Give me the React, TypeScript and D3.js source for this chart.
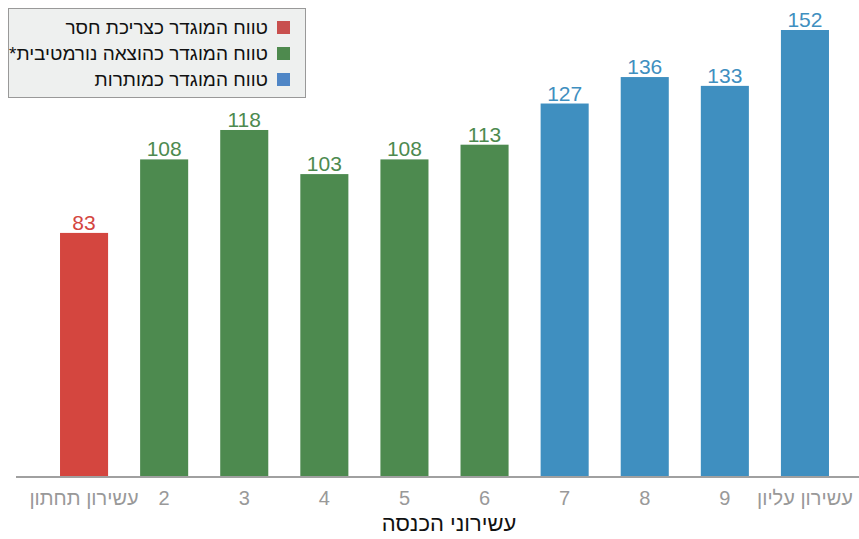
import * as d3 from "d3";

const width = 859;
const height = 539;
const baseline = 477;
const topY = 30;

const categories = ["עשירון תחתון", "2", "3", "4", "5", "6", "7", "8", "9", "עשירון עליון"];
const values = [83, 108, 118, 103, 108, 113, 127, 136, 133, 152];
const groups = ["short", "norm", "norm", "norm", "norm", "norm", "surplus", "surplus", "surplus", "surplus"];

const legendLabels = [
  "טווח המוגדר כצריכת חסר",
  "טווח המוגדר כהוצאה נורמטיבית*",
  "טווח המוגדר כמותרות",
];
const legendKeys = ["short", "norm", "surplus"];

const barColor: Record<string, string> = {
  short: "#d4463f",
  norm: "#4d8a4f",
  surplus: "#3f8fc0",
};
const legendColor: Record<string, string> = {
  short: "#c8504e",
  norm: "#4e8a4e",
  surplus: "#4f86c6",
};

const narrow = "'Liberation Sans Narrow', 'Arial Narrow', 'Liberation Sans', sans-serif";
const sans = "'Liberation Sans', Arial, sans-serif";

const App = () => {
  const x = d3.scaleBand<string>().domain(categories).range([44, 845]).paddingInner(0.4).paddingOuter(0.2);
  const y = d3.scaleLinear().domain([0, 152]).range([baseline, topY]);

  return (
    <svg
      width={width}
      height={height}
      viewBox={`0 0 ${width} ${height}`}
      style={{ position: "absolute", left: 0, top: 0, background: "#fff" }}
    >
      {categories.map((c, i) => (
        <g key={c}>
          <rect
            x={x(c)}
            y={y(values[i])}
            width={x.bandwidth()}
            height={baseline - y(values[i])}
            fill={barColor[groups[i]]}
          />
          <text
            x={(x(c) as number) + x.bandwidth() / 2}
            y={y(values[i]) - 3}
            textAnchor="middle"
            fontFamily={sans}
            fontSize={21}
            fill={barColor[groups[i]]}
          >
            {values[i]}
          </text>
          <text
            x={(x(c) as number) + x.bandwidth() / 2}
            y={505}
            textAnchor="middle"
            fontFamily={narrow}
            fontSize={20}
            fill="#999"
            direction="rtl"
          >
            {c}
          </text>
        </g>
      ))}

      <line x1={16} x2={859} y1={baseline} y2={baseline} stroke="#a0a0a0" strokeWidth={2} />

      <text
        x={449}
        y={531}
        textAnchor="middle"
        fontFamily={narrow}
        fontSize={22}
        fill="#111"
        direction="rtl"
      >
        עשירוני הכנסה
      </text>

      <rect x={8.5} y={8.5} width={297} height={89} fill="#eef0ef" stroke="#999" />
      {legendKeys.map((k, i) => (
        <g key={k}>
          <rect x={277} y={21 + i * 26} width={13} height={13} fill={legendColor[k]} />
          <text
            x={268}
            y={34 + i * 26}
            textAnchor="start"
            direction="rtl"
            fontFamily={sans}
            fontSize={19}
            fill="#111"
          >
            {legendLabels[i]}
          </text>
        </g>
      ))}
    </svg>
  );
};

export default App;
